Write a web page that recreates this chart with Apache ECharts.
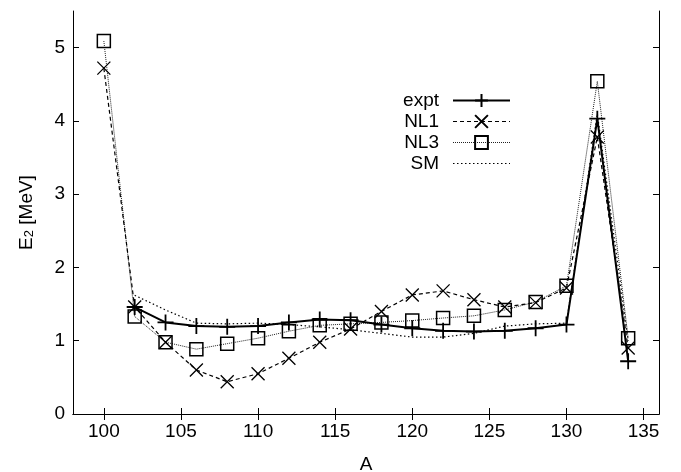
<!DOCTYPE html>
<html>
<head>
<meta charset="utf-8">
<script src="https://cdn.jsdelivr.net/npm/echarts@6/dist/echarts.min.js"></script>
<style>
html,body{margin:0;padding:0;background:#fff;}
#c{width:681px;height:472px;}
</style>
</head>
<body>
<div id="c"></div>
<script>
// ---- data ----
var massNumbers = [100,102,104,106,108,110,112,114,116,118,120,122,124,126,128,130,132,134];
var expt = [null,1.46,1.25,1.20,1.19,1.20,1.25,1.29,1.28,1.22,1.17,1.135,1.125,1.135,1.17,1.22,4.03,0.72];
var nl1  = [4.72,1.46,0.98,0.60,0.44,0.55,0.76,0.98,1.16,1.40,1.625,1.68,1.56,1.46,1.52,1.72,3.78,0.90];
var nl3  = [5.09,1.33,0.98,0.885,0.96,1.035,1.13,1.21,1.23,1.25,1.275,1.31,1.34,1.42,1.53,1.75,4.54,1.035];
var sm   = [null,1.62,1.42,1.24,1.23,1.24,1.22,1.19,1.15,1.10,1.05,1.05,1.10,1.20,1.23,1.24,4.10,1.00];
var xTicks = [100,105,110,115,120,125,130,135];
var yTicks = [0,1,2,3,4,5];

function pairs(v){ return massNumbers.map(function(a,i){ return [a, v[i]]; }); }

var FONT = 'Liberation Sans';
var plus = 'path://M5,0L5,10M0,5L10,5';
var cross = 'path://M0,0L10,10M10,0L0,10';

var chart = echarts.init(document.getElementById('c'), null, {renderer:'canvas'});
var axisBase = {
  type:'value', min:98, max:136,
  axisLine:{show:true, lineStyle:{color:'#000', width:1}},
  splitLine:{show:false}
};
chart.setOption({
  animation:false,
  backgroundColor:'#fff',
  textStyle:{fontFamily:FONT},
  grid:{left:73, right:22, top:11, bottom:58, containLabel:false, outerBoundsMode:'none'},
  legend:{
    orient:'vertical', align:'right', right:165, top:86,
    itemWidth:57, itemHeight:16, itemGap:2,
    textStyle:{fontFamily:FONT, fontSize:19, color:'#000', padding:[0,9,0,0]},
    data:[
      {name:'expt', lineStyle:{width:2}},
      {name:'NL1', lineStyle:{width:1.2}},
      {name:'NL3', lineStyle:{width:1}},
      {name:'SM', lineStyle:{width:1.2}, itemStyle:{opacity:0}}
    ]
  },
  xAxis:[
    Object.assign({}, axisBase, {
      position:'bottom',
      name:'A', nameLocation:'middle', nameGap:41,
      nameTextStyle:{fontFamily:FONT, fontSize:19, color:'#000'},
      axisTick:{show:true, inside:true, length:6, customValues:xTicks, lineStyle:{color:'#000'}},
      axisLabel:{show:true, customValues:xTicks, margin:8, fontFamily:FONT, fontSize:19, color:'#000'}
    }),
    Object.assign({}, axisBase, {
      position:'top',
      axisTick:{show:true, inside:true, length:6, customValues:xTicks, lineStyle:{color:'#000'}},
      axisLabel:{show:false}
    })
  ],
  yAxis:[
    {
      type:'value', min:0, max:5.5, position:'left',
      axisLine:{show:true, lineStyle:{color:'#000', width:1}},
      splitLine:{show:false},
      axisTick:{show:true, inside:true, length:6, customValues:yTicks, lineStyle:{color:'#000'}},
      axisLabel:{show:true, customValues:yTicks, margin:8, fontFamily:FONT, fontSize:19, color:'#000'},
      name:'{a|E}{b|2}{a| [MeV]}', nameLocation:'middle', nameGap:37, nameRotate:90,
      nameTextStyle:{
        fontFamily:FONT, color:'#000',
        rich:{
          a:{fontFamily:FONT, fontSize:19, color:'#000'},
          b:{fontFamily:FONT, fontSize:13, color:'#000', verticalAlign:'bottom', lineHeight:10}
        }
      }
    },
    {
      type:'value', min:0, max:5.5, position:'right',
      axisLine:{show:true, lineStyle:{color:'#000', width:1}},
      splitLine:{show:false},
      axisTick:{show:true, inside:true, length:6, customValues:yTicks, lineStyle:{color:'#000'}},
      axisLabel:{show:false}
    }
  ],
  series:[
    {
      name:'SM', type:'line', data:pairs(sm), xAxisIndex:0, yAxisIndex:0,
      symbol:'none', color:'#000',
      lineStyle:{color:'#000', width:1.2, type:[1.5,2.5]},
      z:2
    },
    {
      name:'NL3', type:'line', data:pairs(nl3),
      symbol:'rect', symbolSize:13, showAllSymbol:true, color:'#000',
      itemStyle:{color:'rgba(0,0,0,0)', borderColor:'#000', borderWidth:1.5},
      lineStyle:{color:'#222', width:1, type:[1,1]},
      z:3
    },
    {
      name:'NL1', type:'line', data:pairs(nl1),
      symbol:cross, symbolSize:13, showAllSymbol:true, color:'#000',
      itemStyle:{color:'#000', borderColor:'#000', borderWidth:1.3},
      lineStyle:{color:'#000', width:1.2, type:[4,3]},
      z:4
    },
    {
      name:'expt', type:'line', data:pairs(expt),
      symbol:plus, symbolSize:16, showAllSymbol:true, color:'#000',
      itemStyle:{color:'#000', borderColor:'#000', borderWidth:1.8},
      lineStyle:{color:'#000', width:2},
      z:5
    }
  ]
});
</script>
</body>
</html>
